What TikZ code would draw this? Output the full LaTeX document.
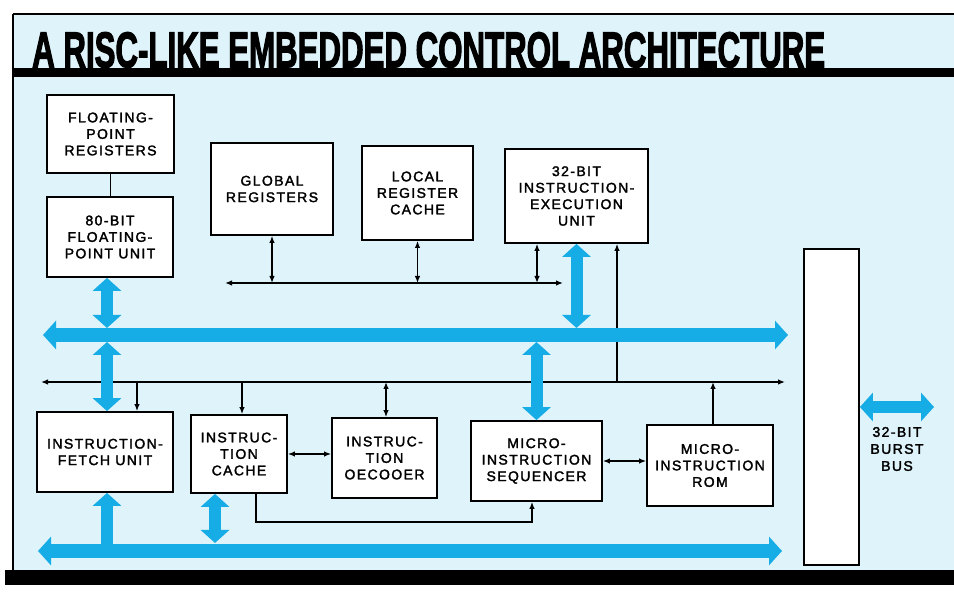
\documentclass[tikz,border=0pt]{standalone}
\usepackage{fontspec}
\usepackage{graphicx}
\usetikzlibrary{arrows.meta,calc}
\newfontfamily\boxfont[LetterSpace=10,FakeBold=2]{Liberation Sans}
\newfontfamily\titlefont[FakeBold=3]{Liberation Sans}
\definecolor{paper}{RGB}{222,243,250}
\definecolor{busblue}{RGB}{22,172,230}
\tikzset{
  bh/.tip={Triangle[length=13pt,width=28pt]},
  blk/.style={draw=black, line width=1.8pt, fill=white, inner sep=0pt, align=center,
    font=\boxfont\fontsize{14}{16.5}\selectfont},
  lbl/.style={inner sep=0pt, align=center, font=\boxfont\fontsize{14}{17}\selectfont},
  link/.style={line width=1.3pt, draw=black},
  bus/.style={line width=14pt, draw=busblue, arrows={bh-bh}},
  vbus/.style={line width=12pt, draw=busblue},
}
\begin{document}
\begin{tikzpicture}[x=1pt,y=-1pt,>={Latex[length=7pt,width=5.5pt]}]
\useasboundingbox (0,0) rectangle (954,601);
\fill[white] (0,0) rectangle (954,601);
\fill[paper] (13,14) rectangle (954,572);
\draw[line width=2pt] (13,14) -- (954,14);
\draw[line width=2pt] (13,14) -- (13,578);
\fill[black] (13,68.5) rectangle (954,77.5);
\fill[black] (5,570) rectangle (954,585);

\node[inner sep=0pt, anchor=west] (title) at (32,50)
  {\resizebox{793pt}{35pt}{\titlefont\bfseries A RISC-LIKE EMBEDDED CONTROL ARCHITECTURE}};

% blocks
\node[blk, minimum width=127, minimum height=78] (fpr) at (110.5,134) {FLOATING-\\POINT\\REGISTERS};
\node[blk, minimum width=126, minimum height=80] (fpu) at (110,237) {80-BIT\\FLOATING-\\POINT UNIT};
\node[blk, minimum width=122, minimum height=92] (gr) at (272,189) {GLOBAL\\REGISTERS};
\node[blk, minimum width=111, minimum height=94] (lrc) at (417.5,193) {LOCAL\\REGISTER\\CACHE};
\node[blk, minimum width=143, minimum height=94] (ieu) at (576.5,196) {32-BIT\\INSTRUCTION-\\EXECUTION\\UNIT};
\node[blk, minimum width=55, minimum height=316] (busrect) at (831.5,407) {};
\node[blk, minimum width=136, minimum height=80] (ifu) at (105,452) {INSTRUCTION-\\FETCH UNIT};
\node[blk, minimum width=96, minimum height=78] (ic) at (239,454) {INSTRUC-\\TION\\CACHE};
\node[blk, minimum width=105, minimum height=80] (id) at (384.5,458) {INSTRUC-\\TION\\OECOOER};
\node[blk, minimum width=131, minimum height=80] (mis) at (536.5,461) {MICRO-\\INSTRUCTION\\SEQUENCER};
\node[blk, minimum width=126, minimum height=81] (rom) at (710,465.5) {MICRO-\\INSTRUCTION\\ROM};
\node[lbl] (bblabel) at (897,449) {32-BIT\\BURST\\BUS};

% thin buses
\coordinate (ul1) at (225,283);
\coordinate (ul2) at (563,283);
\coordinate (ll1) at (41,382);
\coordinate (ll2) at (785,382);
\draw[link,<->] (ul1) -- (ul2);
\draw[link,<->] (ll1) -- (ll2);

\draw[link] (fpr.south) -- (fpr.south |- fpu.north);
\draw[link,<->] (gr.south) -- (gr.south |- ul1);
\draw[link,<->] (lrc.south) -- (lrc.south |- ul1);
\coordinate (ieuL) at ([xshift=-39.5pt]ieu.south);
\coordinate (ieuR) at ([xshift=40.5pt]ieu.south);
\draw[link,<->] (ieuL) -- (ieuL |- ul1);
\draw[link,->] (ieuR |- ll1) -- (ieuR);

\coordinate (ifuT1) at ([xshift=32pt]ifu.north);
\draw[link,->] (ifuT1 |- ll1) -- (ifuT1);
\coordinate (icT1) at ([xshift=3pt]ic.north);
\draw[link,->] (icT1 |- ll1) -- (icT1);
\coordinate (idT1) at ([xshift=1.5pt]id.north);
\draw[link,<->] (idT1 |- ll1) -- (idT1);
\coordinate (romT1) at ([xshift=3pt]rom.north);
\draw[link,->] (romT1) -- (romT1 |- ll1);

\draw[link,<->] (ic.east) -- (ic.east -| id.west);
\draw[link,<->] (mis.east) -- (mis.east -| rom.west);

\coordinate (icb) at ([xshift=17pt]ic.south);
\coordinate (misb) at ([xshift=-4.5pt]mis.south);
\coordinate (lp) at (0,522);
\draw[link,->] (icb) -- (icb |- lp) -- (misb |- lp) -- (misb);

% wide buses
\coordinate (ub1) at (43,335);
\coordinate (ub2) at (788,335);
\coordinate (lb1) at (38,551);
\coordinate (lb2) at (782,551);
\draw[bus] (ub1) -- (ub2);
\draw[bus] (lb1) -- (lb2);

\coordinate (fpuB) at ([xshift=-3pt]fpu.south);
\draw[vbus,bh-bh] (fpuB) -- ($(fpuB |- ub1)+(0,-7)$);
\coordinate (ifuT) at ([xshift=2pt]ifu.north);
\draw[vbus,bh-bh] ($(ifuT |- ub1)+(0,7)$) -- (ifuT);
\coordinate (ifuB) at ([xshift=2pt]ifu.south);
\draw[vbus,-bh] (ifuB |- lb1) -- (ifuB);
\coordinate (icBlue) at ([xshift=-24pt]ic.south);
\draw[vbus,bh-bh] (icBlue) -- ($(icBlue |- lb1)+(0,-8)$);
\draw[vbus,bh-bh] (ieu.south) -- ($(ieu.south |- ub1)+(0,-7)$);
\draw[vbus,bh-bh] ($(mis.north |- ub1)+(0,7)$) -- (mis.north);
\coordinate (bb) at (934,407);
\draw[vbus,bh-bh] (busrect.east) -- (bb);
\end{tikzpicture}
\end{document}
